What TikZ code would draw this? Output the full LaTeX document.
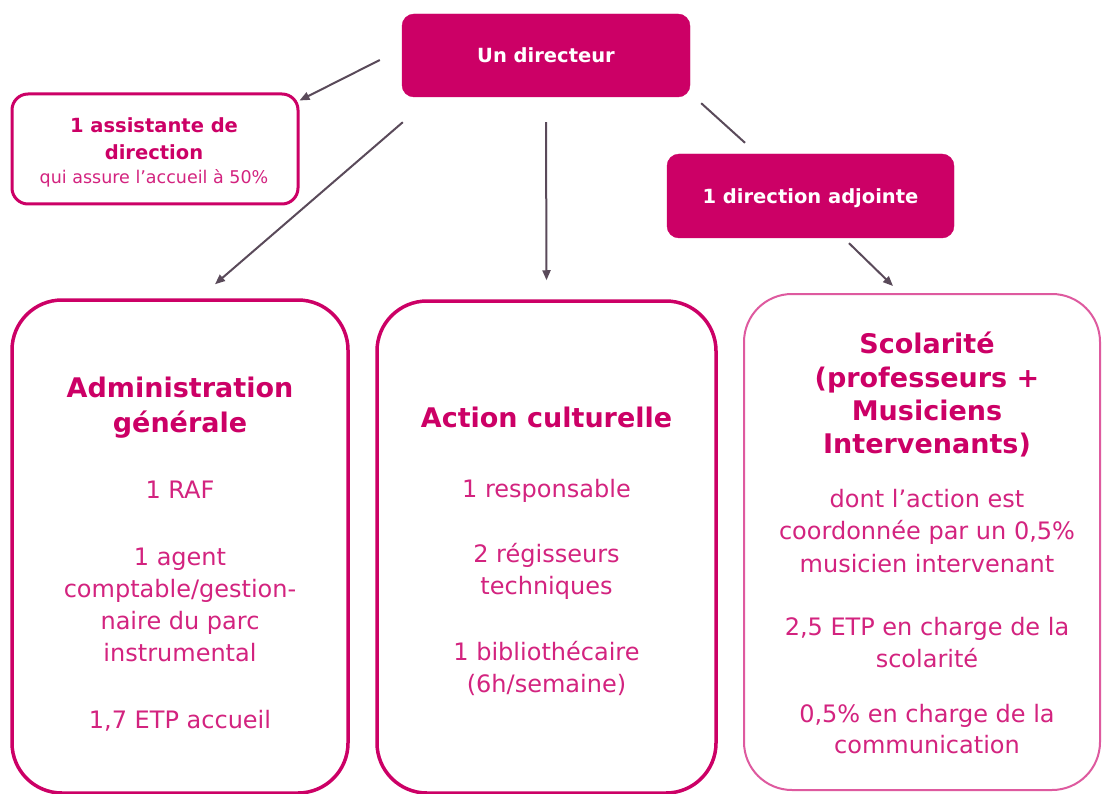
\documentclass[tikz,border=0pt]{standalone}
\usepackage{fontspec}
\setmainfont{DejaVu Sans}
\usetikzlibrary{arrows.meta}
\definecolor{mag}{HTML}{CC0066}
\definecolor{pinktxt}{HTML}{D3237F}
\definecolor{lightbrd}{HTML}{DE5A9F}
\definecolor{arrowgray}{HTML}{5A4A5A}
\begin{document}
\begin{tikzpicture}[x=1pt,y=-1pt,
  filledbox/.style={fill=mag, draw=mag, rounded corners=12pt, inner sep=0pt, text=white,
    font=\bfseries\fontsize{19.5}{19.5}\selectfont},
  outlinebox/.style={draw=mag, line width=3.5pt, fill=white, inner sep=0pt},
  ttl/.style={text=mag, font=\bfseries\fontsize{27}{27}\selectfont, anchor=base, inner sep=0pt},
  reg/.style={text=pinktxt, font=\fontsize{24}{24}\selectfont, anchor=base, inner sep=0pt},
  smallbold/.style={text=mag, font=\bfseries\fontsize{19.5}{19.5}\selectfont, anchor=base, inner sep=0pt},
  smallreg/.style={text=pinktxt, font=\fontsize{17.5}{17.5}\selectfont, anchor=base, inner sep=0pt},
  conn/.style={draw=arrowgray, line width=2pt},
  arr/.style={conn, -{Triangle[length=10pt,width=8pt]}}
]
\useasboundingbox[fill=white] (0,0) rectangle (1102,794);

% boxes
\node[filledbox, minimum width=288pt, minimum height=83pt] (dir) at (546,55.5) {Un directeur};
\node[outlinebox, line width=3pt, rounded corners=16pt, minimum width=286pt, minimum height=110pt] (assist) at (155,149) {};
\node[filledbox, text depth=0pt, minimum width=287pt, minimum height=84pt] (adj) at (810.5,196) {1 direction adjointe};
\node[outlinebox, rounded corners=50pt, minimum width=336pt, minimum height=493pt] (admin) at (180,546.5) {};
\node[outlinebox, rounded corners=50pt, minimum width=339pt, minimum height=492pt] (cult) at (546.5,547) {};
\node[outlinebox, draw=lightbrd, line width=2pt, rounded corners=48pt, minimum width=356pt, minimum height=496pt] (scol) at (922,542) {};

% assistant text
\node[smallbold] (as1) at (154,133) {1 assistante de};
\node[smallbold] (as2) at (154,160) {direction};
\node[smallreg] (as3) at (154,184) {qui assure l’accueil à 50\%};

% administration text
\node[ttl] (ad1) at (180,397) {Administration};
\node[ttl] (ad2) at (180,432) {générale};
\node[reg] (ad3) at (180,498) {1 RAF};
\node[reg] (ad4) at (180,565) {1 agent};
\node[reg] (ad5) at (180,597) {comptable/gestion-};
\node[reg] (ad6) at (180,629) {naire du parc};
\node[reg] (ad7) at (180,661) {instrumental};
\node[reg] (ad8) at (180,728) {1,7 ETP accueil};

% action culturelle text
\node[ttl] (ac1) at (546.5,427) {Action culturelle};
\node[reg] (ac2) at (546.5,497) {1 responsable};
\node[reg] (ac3) at (546.5,562) {2 régisseurs};
\node[reg] (ac4) at (546.5,594) {techniques};
\node[reg] (ac5) at (546.5,660) {1 bibliothécaire};
\node[reg] (ac6) at (546.5,692) {(6h/semaine)};

% scolarite text
\node[ttl] (sc1) at (927,353) {Scolarité};
\node[ttl] (sc2) at (927,387) {(professeurs +};
\node[ttl] (sc3) at (927,420) {Musiciens};
\node[ttl] (sc4) at (927,453) {Intervenants)};
\node[reg] (sc5) at (927,507) {dont l’action est};
\node[reg] (sc6) at (927,539) {coordonnée par un 0,5\%};
\node[reg] (sc7) at (927,572) {musicien intervenant};
\node[reg] (sc8) at (927,635) {2,5 ETP en charge de la};
\node[reg] (sc9) at (927,667) {scolarité};
\node[reg] (sc10) at (927,722) {0,5\% en charge de la};
\node[reg] (sc11) at (927,753) {communication};

% connectors
\draw[arr] ([shift={(-22,4.5)}]dir.west) -- ([shift={(0,8)}]assist.north east);
\draw[arr] ([shift={(1,25)}]dir.south west) -- ([shift={(35,-14)}]admin.north);
\draw[arr] ([shift={(0,25)}]dir.south) -- ([shift={(0,-19)}]cult.north);
\draw[conn] ([shift={(11,6)}]dir.south east) -- ([shift={(-65.5,-11)}]adj.north);
\draw[arr] ([shift={(38.5,5)}]adj.south) -- ([shift={(-29,-7)}]scol.north);
\end{tikzpicture}
\end{document}
